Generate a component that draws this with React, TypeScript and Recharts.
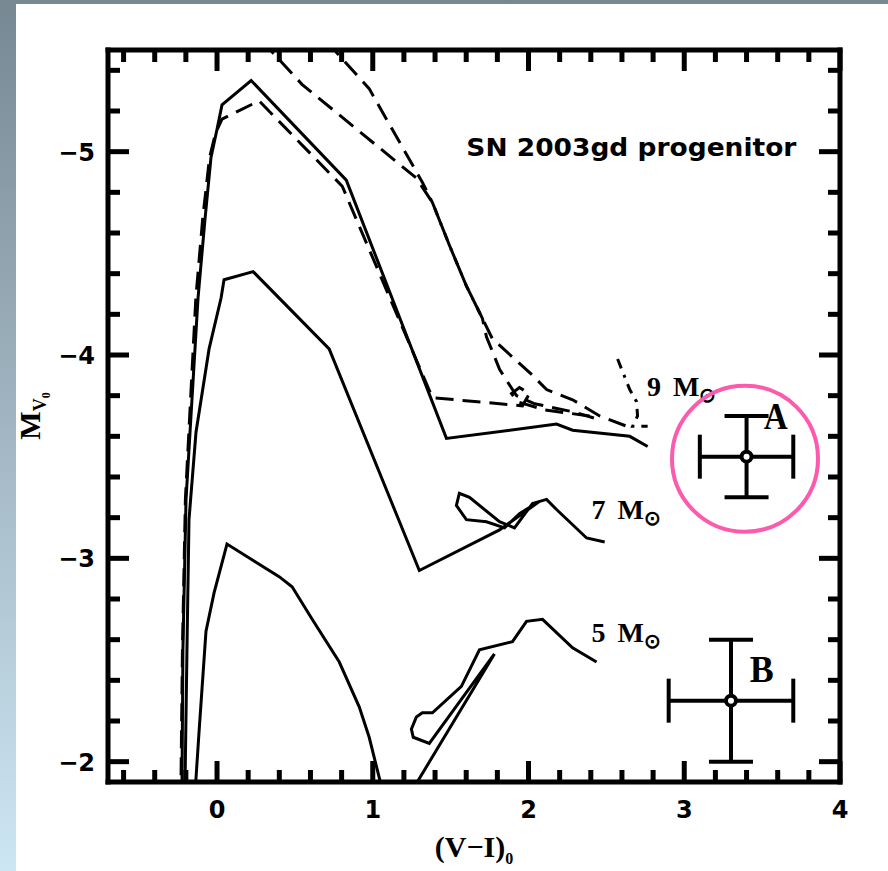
import React from "react";
import { ComposedChart, Line, Scatter, XAxis, YAxis, ErrorBar, ReferenceDot } from "recharts";

type Pt = { x: number; y: number };
const pts = (a: number[][]): Pt[] => a.map(([x, y]) => ({ x, y }));

// evolutionary tracks, (V-I)0 vs M_V0
const track9 = pts([
  [-0.23, -1.8], [-0.225, -1.86], [-0.219, -2.55], [-0.199, -3.29], [-0.161, -3.78], [-0.122, -4.28],
  [-0.077, -4.67], [-0.039, -4.97], [0.0, -5.11], [0.032, -5.23], [0.219, -5.35], [0.83, -4.86],
  [1.473, -3.59], [2.18, -3.66], [2.283, -3.63], [2.65, -3.6], [2.765, -3.55],
]);
const track9Dash = pts([
  [-0.235, -1.8], [-0.232, -1.86], [-0.222, -2.55], [-0.203, -3.29], [-0.17, -3.78], [-0.136, -4.28],
  [-0.092, -4.67], [-0.048, -4.97], [-0.01, -5.09], [0.032, -5.16], [0.27, -5.25], [0.804, -4.83],
  [1.383, -3.79], [1.961, -3.75], [2.006, -3.81], [1.942, -3.84], [1.891, -3.81], [1.93, -3.77],
  [2.103, -3.73], [2.392, -3.7],
]);
const track9DashA = pts([
  [0.29, -5.55], [0.354, -5.49], [0.547, -5.33], [1.28, -4.87], [1.383, -4.75], [1.492, -4.54],
  [1.601, -4.34], [1.704, -4.18], [1.73, -4.09], [1.814, -3.93], [1.897, -3.83], [1.923, -3.8],
  [2.04, -3.76], [2.29, -3.72], [2.42, -3.69],
]);
const track9DashB = pts([
  [0.72, -5.55], [0.765, -5.49], [0.977, -5.31], [1.125, -5.11], [1.318, -4.85], [1.383, -4.75],
  [1.492, -4.54], [1.601, -4.34], [1.704, -4.18], [1.768, -4.08], [2.026, -3.9], [2.116, -3.83],
  [2.283, -3.78], [2.457, -3.7], [2.63, -3.65],
]);
const track9DashDot = pts([
  [2.572, -3.98], [2.65, -3.83], [2.694, -3.77], [2.7, -3.7], [2.669, -3.65], [2.765, -3.65],
]);
const track7 = pts([
  [-0.21, -1.8], [-0.206, -1.86], [-0.193, -2.55], [-0.18, -3.19], [-0.135, -3.62], [-0.051, -4.03],
  [0.026, -4.28], [0.045, -4.37], [0.232, -4.41], [0.72, -4.03], [1.299, -2.94], [1.814, -3.14],
  [2.071, -3.28], [1.942, -3.22], [1.846, -3.15], [1.73, -3.18], [1.601, -3.19], [1.537, -3.26],
  [1.556, -3.32], [1.621, -3.3], [1.814, -3.18], [1.91, -3.15], [2.026, -3.27], [2.116, -3.29],
  [2.18, -3.24], [2.373, -3.1], [2.489, -3.08],
]);
const track5 = pts([
  [-0.145, -1.8], [-0.14, -1.86], [-0.116, -2.14], [-0.071, -2.64], [-0.019, -2.83], [0.064, -3.07],
  [0.399, -2.91], [0.482, -2.86], [0.611, -2.7], [0.785, -2.49], [0.913, -2.27], [0.977, -2.12],
  [1.042, -1.92], [1.08, -1.8], [1.207, -1.8], [1.781, -2.53], [1.363, -2.09], [1.26, -2.12],
  [1.248, -2.16], [1.28, -2.22], [1.318, -2.24], [1.383, -2.24], [1.569, -2.37], [1.685, -2.55],
  [1.897, -2.59], [1.987, -2.69], [2.09, -2.7], [2.283, -2.56], [2.437, -2.49],
]);

// progenitor photometry, two cases
const progenitor = [
  { x: 3.4, y: -3.5, ex: 0.3, ey: 0.2, name: "A", lx: 3.51, ly: -3.635 },
  { x: 3.3, y: -2.3, ex: 0.4, ey: 0.3, name: "B", lx: 3.42, ly: -2.39 },
];
const massLabels = [
  { x: 2.76, y: -3.8, mass: "9" },
  { x: 2.405, y: -3.195, mass: "7" },
  { x: 2.405, y: -2.59, mass: "5" },
];
const titleLabel = [{ x: 1.601, y: -4.98, text: "SN 2003gd progenitor" }];

const xTicks = [-0.6, -0.4, -0.2, 0, 0.2, 0.4, 0.6, 0.8, 1, 1.2, 1.4, 1.6, 1.8, 2, 2.2, 2.4, 2.6, 2.8, 3, 3.2, 3.4, 3.6, 3.8, 4];
const yTicks = [-5.4, -5.2, -5, -4.8, -4.6, -4.4, -4.2, -4, -3.8, -3.6, -3.4, -3.2, -3, -2.8, -2.6, -2.4, -2.2, -2];
const xMajor = [0, 1, 2, 3, 4];
const yMajor = [-5, -4, -3, -2];

const SANS = "'DejaVu Sans', sans-serif";
const SERIF = "'Liberation Serif', serif";
const isMajor = (v: number, list: number[]) => list.some((m) => Math.abs(m - v) < 1e-6);
const fmt = (v: number) => (v < 0 ? "\u2212" + Math.abs(v) : String(v));

const XTick = ({ x, y, payload, side }: any) => {
  const major = isMajor(payload.value, xMajor);
  const len = major ? 21 : 12;
  const dir = side === "bottom" ? -1 : 1;
  return (
    <g>
      <line x1={x} y1={y} x2={x} y2={y + dir * len} stroke="#000" strokeWidth={5} />
      {side === "bottom" && major && (
        <text x={x} y={y + 36} textAnchor="middle" fontFamily={SANS} fontWeight="bold" fontSize={24}>
          {fmt(payload.value)}
        </text>
      )}
    </g>
  );
};

const YTick = ({ x, y, payload, side }: any) => {
  const major = isMajor(payload.value, yMajor);
  const len = major ? 21 : 12;
  const dir = side === "left" ? 1 : -1;
  return (
    <g>
      <line x1={x} y1={y} x2={x + dir * len} y2={y} stroke="#000" strokeWidth={5} />
      {side === "left" && major && (
        <text x={x - 13} y={y + 9} textAnchor="end" fontFamily={SANS} fontWeight="bold" fontSize={24}>
          {fmt(payload.value)}
        </text>
      )}
    </g>
  );
};

const XTitle = ({ viewBox }: any) => (
  <text x={viewBox.x + viewBox.width / 2} y={782 + 75} textAnchor="middle" fontFamily={SERIF} fontWeight="bold" fontSize={30}>
    (V{"\u2212"}I)<tspan fontSize={16} dy={7}>0</tspan>
  </text>
);

const YTitle = ({ viewBox }: any) => {
  const x = 40;
  const y = viewBox.y + viewBox.height / 2;
  return (
    <text x={x} y={y} transform={`rotate(-90, ${x}, ${y})`} textAnchor="middle" fontFamily={SERIF} fontWeight="bold" fontSize={30}>
      M<tspan fontSize={18} dy={6}>V</tspan><tspan fontSize={12} dy={4}>0</tspan>
    </text>
  );
};

const lineStyle = { stroke: "#000", strokeWidth: 3, dot: false, isAnimationActive: false, type: "linear" as const };
const frame = { stroke: "#000", strokeWidth: 5, strokeLinecap: "square" as const };

export default function App() {
  return (
    <div style={{ position: "absolute", left: 0, top: 0, width: 888, height: 871, overflow: "hidden", background: "linear-gradient(to bottom, #778893, #cde6f3)" }}>
      <div style={{ position: "absolute", left: 16, top: 4, right: 0, bottom: 0, background: "#fff" }} />
      <div style={{ position: "absolute", left: 0, top: 0 }}>
        <ComposedChart width={888} height={871} margin={{ top: 49, right: 47, bottom: 88, left: 107 }}>
          <XAxis
            dataKey="x" type="number" domain={[-0.7, 4]} allowDataOverflow ticks={xTicks} interval={0}
            height={1} tickSize={0} tickMargin={0} tickLine={false} axisLine={frame}
            tick={(p: any) => <XTick {...p} side="bottom" />}
            label={<XTitle />}
          />
          <XAxis
            xAxisId="top" orientation="top" dataKey="x" type="number" domain={[-0.7, 4]} allowDataOverflow ticks={xTicks} interval={0}
            height={1} tickSize={0} tickMargin={0} tickLine={false} axisLine={frame}
            tick={(p: any) => <XTick {...p} side="top" />}
          />
          <YAxis
            dataKey="y" type="number" domain={[-5.5, -1.9]} reversed allowDataOverflow ticks={yTicks} interval={0}
            width={1} tickSize={0} tickMargin={0} tickLine={false} axisLine={frame}
            tick={(p: any) => <YTick {...p} side="left" />}
            label={<YTitle />}
          />
          <YAxis
            yAxisId="right" orientation="right" dataKey="y" type="number" domain={[-5.5, -1.9]} reversed allowDataOverflow ticks={yTicks} interval={0}
            width={1} tickSize={0} tickMargin={0} tickLine={false} axisLine={frame}
            tick={(p: any) => <YTick {...p} side="right" />}
          />

          <Line data={track5} dataKey="y" {...lineStyle} />
          <Line data={track7} dataKey="y" {...lineStyle} />
          <Line data={track9} dataKey="y" {...lineStyle} />
          <Line data={track9Dash} dataKey="y" {...lineStyle} strokeDasharray="18 9" />
          <Line data={track9DashA} dataKey="y" {...lineStyle} strokeDasharray="18 9" />
          <Line data={track9DashB} dataKey="y" {...lineStyle} strokeDasharray="18 9" />
          <Line data={track9DashDot} dataKey="y" {...lineStyle} strokeDasharray="10 7 3 7" />

          <Scatter
            data={progenitor} dataKey="y" isAnimationActive={false}
            shape={(p: any) => <circle cx={p.cx} cy={p.cy} r={5} fill="#fff" stroke="#000" strokeWidth={4} />}
          >
            <ErrorBar dataKey="ex" direction="x" width={22} stroke="#000" strokeWidth={4} />
            <ErrorBar dataKey="ey" direction="y" width={22} stroke="#000" strokeWidth={4} />
          </Scatter>

          <Scatter
            data={progenitor.map((d) => ({ x: d.lx, y: d.ly, name: d.name }))} dataKey="y" isAnimationActive={false}
            shape={(p: any) => (
              <text x={p.cx} y={p.cy} fontFamily={SERIF} fontWeight="bold" fontSize={38} textLength={24} lengthAdjust="spacingAndGlyphs">
                {p.payload.name}
              </text>
            )}
          />
          <Scatter
            data={massLabels} dataKey="y" isAnimationActive={false}
            shape={(p: any) => (
              <text x={p.cx} y={p.cy} fontFamily={SERIF} fontWeight="bold" fontSize={28}>
                {p.payload.mass}
                <tspan dx={12}>M</tspan>
                <tspan fontSize={20} dy={6}>{"\u2299"}</tspan>
              </text>
            )}
          />
          <Scatter
            data={titleLabel} dataKey="y" isAnimationActive={false}
            shape={(p: any) => (
              <text x={p.cx} y={p.cy} fontFamily={SANS} fontWeight="bold" fontSize={25} textLength={330} lengthAdjust="spacingAndGlyphs">
                {p.payload.text}
              </text>
            )}
          />

          <ReferenceDot x={3.39} y={-3.49} r={73} fill="none" stroke="#fc5aad" strokeWidth={4} ifOverflow="visible" />
        </ComposedChart>
      </div>
    </div>
  );
}
